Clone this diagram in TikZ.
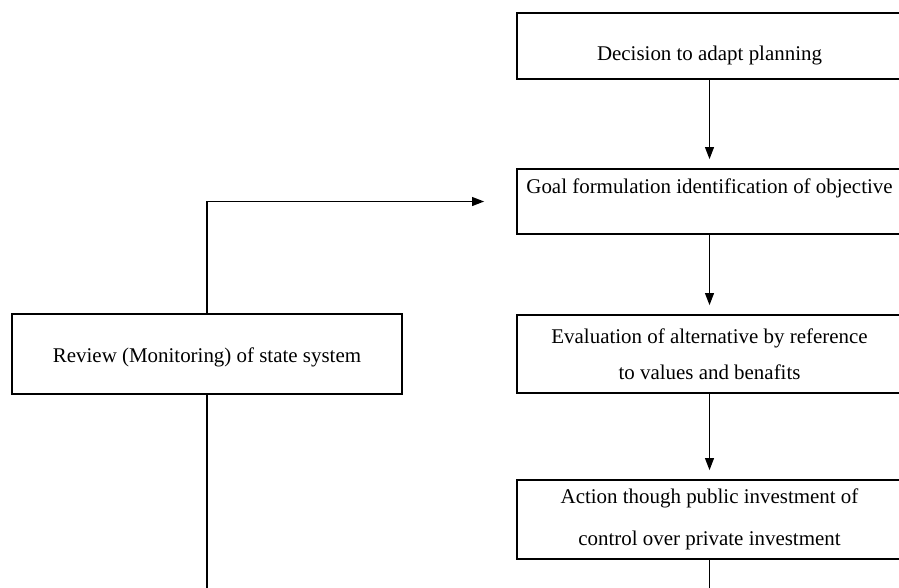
\documentclass[tikz,border=0pt]{standalone}
\usepackage{fontspec}
\setmainfont{Liberation Serif}
\usetikzlibrary{arrows.meta}

\tikzset{
  stage/.style={draw, line width=1.2pt, inner sep=0pt, minimum width=288.75pt, align=center},
  flow/.style={line width=1.3pt, -{Triangle[length=9pt,width=6.5pt]}, shorten >=6.75pt},
}

\begin{document}
\begin{tikzpicture}[x=0.75pt,y=0.75pt,yscale=-1,xscale=1]
        \useasboundingbox (0,0) rectangle (899,587);
        \clip (0,0) rectangle (899,587);

        %Shape: Rectangle [decide]
        \node [stage, minimum height=49.5pt, text height=21pt, text depth=0pt, font=\fontsize{15.7}{27}\selectfont] (decide) at (709.5,46) {Decision to adapt planning};
        %Shape: Rectangle [goal]
        \node [stage, minimum height=48.75pt, text height=10pt, text depth=22.75pt, font=\fontsize{15.7}{27}\selectfont] (goal) at (709.5,201.5) {Goal formulation identification of objective};
        %Shape: Rectangle [evaluate]
        \node [stage, minimum height=58.5pt, font=\fontsize{15.7}{27}\selectfont] (evaluate) at (709.5,354) {Evaluation of alternative by reference\\to values and benafits};
        %Shape: Rectangle [act]
        \node [stage, minimum height=59.25pt, font=\fontsize{15.7}{31.5}\selectfont] (act) at (709.5,519.5) {Action though public investment of\\control over private investment};
        %Shape: Rectangle [review]
        \node [stage, minimum width=292.5pt, minimum height=60pt, text height=14pt, text depth=2pt, font=\fontsize{15.7}{27}\selectfont] (review) at (207,354) {Review (Monitoring) of state system};

        %Straight Lines
        \draw [flow] (decide) -- (goal);
        \draw [flow] (goal) -- (evaluate);
        \draw [flow] (evaluate) -- (act);
        %Straight Lines [feedback]
        \draw [flow, shorten >=24pt] (review) |- (goal);

        %Straight Lines [to bottom]
        \coordinate (reviewend) at (207,592);
        \coordinate (actend) at (709.5,592);
        \draw [line width=1.3pt] (review) -- (reviewend);
        \draw [line width=1.3pt] (act) -- (actend);

\end{tikzpicture}
\end{document}
